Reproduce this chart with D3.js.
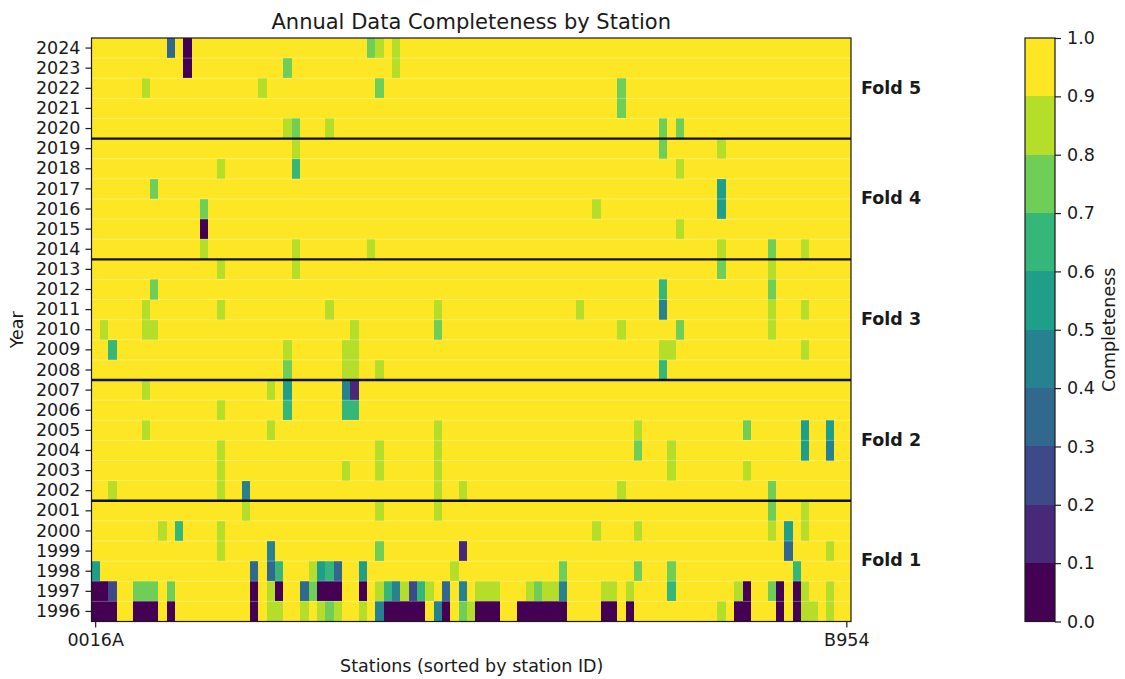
<!DOCTYPE html>
<html>
<head>
<meta charset="utf-8">
<script src="https://cdnjs.cloudflare.com/ajax/libs/d3/7.8.5/d3.min.js"></script>
<style>
  body { margin: 0; background: #fff; }
  text { font-family: "DejaVu Sans", sans-serif; fill: #1a1a1a; }
  .axis text { font-size: 17.5px; }
  .axis path, .axis line { stroke: #1a1a1a; stroke-width: 1.2; }
</style>
</head>
<body>
<div id="chart-area"></div>
<script>
const stationCount = 91;
const xTickIndex = [0, 90];
const xTickNames = ["0016A", "B954"];
const years = d3.range(1996, 2025);
const foldNames = ["Fold 1", "Fold 2", "Fold 3", "Fold 4", "Fold 5"];
const foldFirstYears = [1996, 2002, 2008, 2014, 2020];
const foldLastYears = [2001, 2007, 2013, 2019, 2024];
const binEdges = d3.range(0, 11).map(d => d / 10);
const complete = 0.98; // every station not listed below

// [station index, completeness] for the stations below 0.9 in each year
const y2024 = [[9,.35],[11,.05],[33,.75],[34,.85],[36,.85]];
const y2023 = [[11,.05],[23,.75],[36,.85]];
const y2022 = [[6,.85],[20,.85],[34,.75],[63,.75]];
const y2021 = [[63,.75]];
const y2020 = [[23,.85],[24,.75],[28,.85],[68,.75],[70,.75]];
const y2019 = [[24,.85],[68,.75],[75,.85]];
const y2018 = [[15,.85],[24,.65],[70,.85]];
const y2017 = [[7,.75],[75,.55]];
const y2016 = [[13,.75],[60,.85],[75,.55]];
const y2015 = [[13,.05],[70,.85]];
const y2014 = [[13,.85],[24,.85],[33,.85],[75,.85],[81,.75],[85,.85]];
const y2013 = [[15,.85],[24,.85],[75,.75],[81,.85]];
const y2012 = [[7,.75],[68,.65],[81,.75]];
const y2011 = [[6,.85],[15,.85],[28,.85],[41,.85],[58,.85],[68,.45],[81,.85],[85,.85]];
const y2010 = [[1,.85],[6,.85],[7,.85],[31,.85],[41,.75],[63,.85],[70,.75],[81,.85]];
const y2009 = [[2,.65],[23,.85],[30,.85],[31,.85],[68,.85],[69,.85],[85,.85]];
const y2008 = [[23,.75],[30,.85],[31,.85],[34,.85],[68,.65]];
const y2007 = [[6,.85],[21,.85],[23,.55],[30,.45],[31,.15]];
const y2006 = [[15,.85],[23,.65],[30,.65],[31,.65]];
const y2005 = [[6,.85],[21,.85],[41,.85],[65,.85],[78,.75],[85,.55],[88,.55]];
const y2004 = [[15,.85],[34,.85],[41,.85],[65,.75],[69,.85],[85,.55],[88,.45]];
const y2003 = [[15,.85],[30,.85],[34,.85],[41,.85],[69,.85],[78,.85]];
const y2002 = [[2,.85],[15,.85],[18,.45],[41,.85],[44,.85],[63,.85],[81,.75]];
const y2001 = [[18,.85],[34,.85],[41,.85],[81,.75],[85,.85]];
const y2000 = [[8,.85],[10,.65],[15,.85],[60,.85],[65,.85],[81,.85],[83,.55],[85,.85]];
const y1999 = [[15,.85],[21,.45],[34,.75],[44,.15],[83,.35],[88,.85]];
const y1998 = [[0,.55],[19,.35],[21,.35],[22,.65],[26,.85],[27,.55],[28,.65],[29,.35],[32,.55],[43,.85],[56,.75],[65,.75],[69,.75],[84,.65]];
const y1997 = [[0,.05],[1,.05],[2,.25],[5,.75],[6,.75],[7,.75],[9,.75],[19,.05],[21,.85],[22,.05],[25,.35],[26,.75],[27,.05],[28,.05],[29,.05],[32,.05],[34,.85],[35,.65],[36,.45],[37,.85],[38,.25],[39,.65],[40,.85],[42,.35],[44,.45],[46,.85],[47,.85],[48,.85],[52,.85],[53,.75],[54,.85],[55,.85],[56,.45],[61,.85],[62,.85],[64,.85],[69,.65],[77,.85],[78,.05],[81,.75],[82,.05],[84,.05],[85,.85],[88,.85]];
const y1996 = [[0,.05],[1,.05],[2,.05],[5,.05],[6,.05],[7,.05],[9,.05],[19,.05],[21,.85],[22,.85],[25,.85],[27,.85],[28,.75],[29,.85],[32,.85],[34,.45],[35,.05],[36,.05],[37,.05],[38,.05],[39,.05],[41,.45],[42,.05],[44,.75],[45,.85],[46,.05],[47,.05],[48,.05],[51,.05],[52,.05],[53,.05],[54,.05],[55,.05],[56,.05],[61,.05],[62,.05],[64,.05],[75,.85],[77,.05],[78,.05],[82,.05],[84,.05],[85,.85],[86,.85],[88,.85]];

const lowByYear = [y1996,y1997,y1998,y1999,y2000,y2001,y2002,y2003,y2004,y2005,y2006,y2007,y2008,y2009,y2010,y2011,y2012,y2013,y2014,y2015,y2016,y2017,y2018,y2019,y2020,y2021,y2022,y2023,y2024];

let cells = [];
years.forEach(function(year, i) {
  let low = new Map(lowByYear[i]);
  d3.range(stationCount).forEach(function(s) {
    cells.push({ year: year, station: s, value: low.has(s) ? low.get(s) : complete });
  });
});

let margin = { top: 38, right: 274, bottom: 57.5, left: 91.5 },
  width = 1125 - margin.left - margin.right,
  height = 679 - margin.top - margin.bottom;

let svg = d3
  .select("#chart-area")
  .append("svg")
  .attr("width", 1125)
  .attr("height", 679)
  .style("display", "block")
  .append("g")
  .attr("transform", "translate(" + margin.left + "," + margin.top + ")");

let x = d3.scaleBand().domain(d3.range(stationCount)).range([0, width]);
let y = d3.scaleBand().domain(years.slice().reverse()).range([0, height]);

// matplotlib's viridis cut into ten flat bins
const binColors = d3.range(10).map(i => d3.interpolateViridis(i / 9));
const color = d3.scaleQuantize().domain([0, 1]).range(binColors);

// crispEdges so neighbouring cells leave no seams
svg.selectAll(".cell")
  .data(cells)
  .enter()
  .append("rect")
  .attr("class", "cell")
  .attr("x", d => x(d.station))
  .attr("y", d => y(d.year))
  .attr("width", x.bandwidth())
  .attr("height", y.bandwidth())
  .attr("shape-rendering", "crispEdges")
  .attr("fill", d => color(d.value));

// faint row separators
svg.selectAll(".row-line")
  .data(years.slice(0, -1))
  .enter()
  .append("line")
  .attr("class", "row-line")
  .attr("x1", 0)
  .attr("x2", width)
  .attr("y1", d => y(d))
  .attr("y2", d => y(d))
  .attr("stroke", "#fff")
  .attr("stroke-opacity", 0.3)
  .attr("stroke-width", 1);

svg.selectAll(".fold-line")
  .data(foldLastYears.slice(0, -1))
  .enter()
  .append("line")
  .attr("class", "fold-line")
  .attr("x1", 0)
  .attr("x2", width)
  .attr("y1", d => y(d))
  .attr("y2", d => y(d))
  .attr("stroke", "#111")
  .attr("stroke-width", 2.4);

svg.selectAll(".fold-label")
  .data(foldNames)
  .enter()
  .append("text")
  .attr("class", "fold-label")
  .attr("x", width + 10)
  .attr("y", (d, i) => (y(foldLastYears[i]) + y(foldFirstYears[i]) + y.bandwidth()) / 2)
  .attr("dy", "0.3em")
  .style("font-size", "17.5px")
  .style("font-weight", "bold")
  .text(d => d);

svg.append("rect")
  .attr("width", width)
  .attr("height", height)
  .attr("fill", "none")
  .attr("stroke", "#1a1a1a")
  .attr("stroke-width", 1.2);

// AXIS

let xAxis = d3.axisBottom(x)
  .tickValues(xTickIndex)
  .tickSizeOuter(0)
  .tickSize(6)
  .tickPadding(6)
  .tickFormat((d, i) => xTickNames[i]);
let yAxis = d3.axisLeft(y).tickSizeOuter(0).tickSize(6).tickPadding(5);

svg.append("g")
  .attr("class", "x-axis axis")
  .attr("transform", "translate(0," + height + ")")
  .call(xAxis)
  .call(g => g.select(".domain").remove())
  .selectAll("text")
  .attr("font-family", null);

svg.append("g")
  .attr("class", "y-axis axis")
  .call(yAxis)
  .call(g => g.select(".domain").remove())
  .selectAll("text")
  .attr("font-family", null);

svg.append("text")
  .attr("x", width / 2)
  .attr("y", -9.5)
  .style("text-anchor", "middle")
  .style("font-size", "21px")
  .text("Annual Data Completeness by Station");

svg.append("text")
  .attr("x", width / 2 + 0.5)
  .attr("y", height + 50)
  .style("text-anchor", "middle")
  .style("font-size", "17.5px")
  .text("Stations (sorted by station ID)");

svg.append("text")
  .attr("transform", "translate(-69," + height / 2 + ") rotate(-90)")
  .style("text-anchor", "middle")
  .style("font-size", "17.5px")
  .text("Year");

// COLOR BAR

let cbX = 1025 - margin.left, cbWidth = 30;
let cbScale = d3.scaleLinear().domain([0, 1]).range([height, 0]);
let cb = svg.append("g").attr("transform", "translate(" + cbX + ",0)");

cb.selectAll(".bin")
  .data(binEdges.slice(0, -1))
  .enter()
  .append("rect")
  .attr("class", "bin")
  .attr("x", 0)
  .attr("width", cbWidth)
  .attr("y", d => cbScale(d + 0.1))
  .attr("height", d => cbScale(d) - cbScale(d + 0.1))
  .attr("shape-rendering", "crispEdges")
  .attr("fill", d => color(d + 0.05));

cb.append("rect")
  .attr("width", cbWidth)
  .attr("height", height)
  .attr("fill", "none")
  .attr("stroke", "#1a1a1a")
  .attr("stroke-width", 1.2);

cb.append("g")
  .attr("class", "axis")
  .attr("transform", "translate(" + cbWidth + ",0)")
  .call(d3.axisRight(cbScale).tickValues(binEdges).tickFormat(d3.format(".1f")).tickSize(6).tickPadding(6))
  .call(g => g.select(".domain").remove())
  .selectAll("text")
  .attr("font-family", null);

cb.append("text")
  .attr("transform", "translate(" + (cbWidth + 60) + "," + height / 2 + ") rotate(-90)")
  .style("text-anchor", "middle")
  .style("font-size", "17.5px")
  .text("Completeness");
</script>
</body>
</html>
